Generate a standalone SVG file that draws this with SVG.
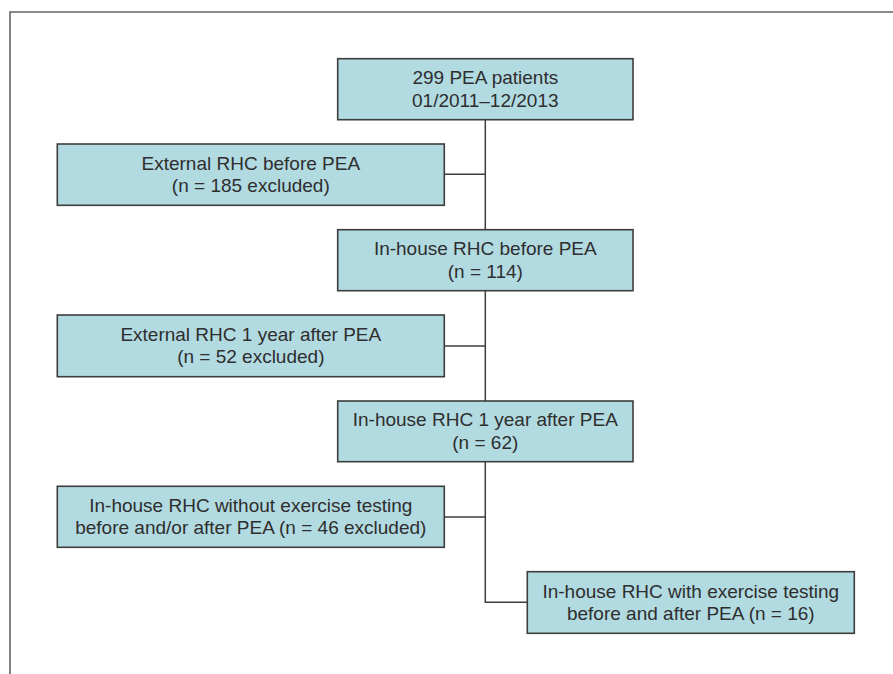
<svg xmlns="http://www.w3.org/2000/svg" width="893" height="674" viewBox="0 0 893 674">
<style>
.box{fill:#b2dae1;stroke:#3d3d3d;stroke-width:1.6}
.t{font-family:"Liberation Sans",Arial,sans-serif;font-size:19px;fill:#2e2e2e;text-anchor:middle}
.c{fill:none;stroke:#3d3d3d;stroke-width:1.5}
.frame{fill:none;stroke:#666;stroke-width:1.6}
</style>
<rect width="893" height="674" fill="#fff"/>
<path class="frame" d="M10,674 V12 H893"/>
<g id="connectors">
<path class="c" d="M485.3,119.7 V230"/>
<path class="c" d="M485.3,174.3 H444.3"/>
<path class="c" d="M485.3,290.7 V401"/>
<path class="c" d="M485.3,346 H444.3"/>
<path class="c" d="M485.3,461.7 V602.3 H527.3"/>
<path class="c" d="M485.3,517 H444.3"/>
</g>
<g id="n1">
<rect class="box" x="337.7" y="58.7" width="295.3" height="61"/>
<text class="t" x="485.3" y="84.3">299 PEA patients<tspan x="485.3" dy="22.4">01/2011–12/2013</tspan></text>
</g>
<g id="n2">
<rect class="box" x="57.3" y="144" width="387" height="61.3"/>
<text class="t" x="250.8" y="169.7">External RHC before PEA<tspan x="250.8" dy="22.4">(n = 185 excluded)</tspan></text>
</g>
<g id="n3">
<rect class="box" x="337.7" y="229.7" width="295.3" height="61"/>
<text class="t" x="485.3" y="255.2">In-house RHC before PEA<tspan x="485.3" dy="22.4">(n = 114)</tspan></text>
</g>
<g id="n4">
<rect class="box" x="57.3" y="315" width="387" height="61.7"/>
<text class="t" x="250.8" y="340.8">External RHC 1 year after PEA<tspan x="250.8" dy="22.4">(n = 52 excluded)</tspan></text>
</g>
<g id="n5">
<rect class="box" x="337.7" y="401" width="295.3" height="60.7"/>
<text class="t" x="485.3" y="426.3">In-house RHC 1 year after PEA<tspan x="485.3" dy="22.4">(n = 62)</tspan></text>
</g>
<g id="n6">
<rect class="box" x="57.3" y="486.3" width="387" height="61"/>
<text class="t" x="250.8" y="511.8">In-house RHC without exercise testing<tspan x="250.8" dy="22.4">before and/or after PEA (n = 46 excluded)</tspan></text>
</g>
<g id="n7">
<rect class="box" x="527.3" y="571.7" width="327" height="61.6"/>
<text class="t" x="690.8" y="597.5">In-house RHC with exercise testing<tspan x="690.8" dy="22.4">before and after PEA (n = 16)</tspan></text>
</g>
</svg>
